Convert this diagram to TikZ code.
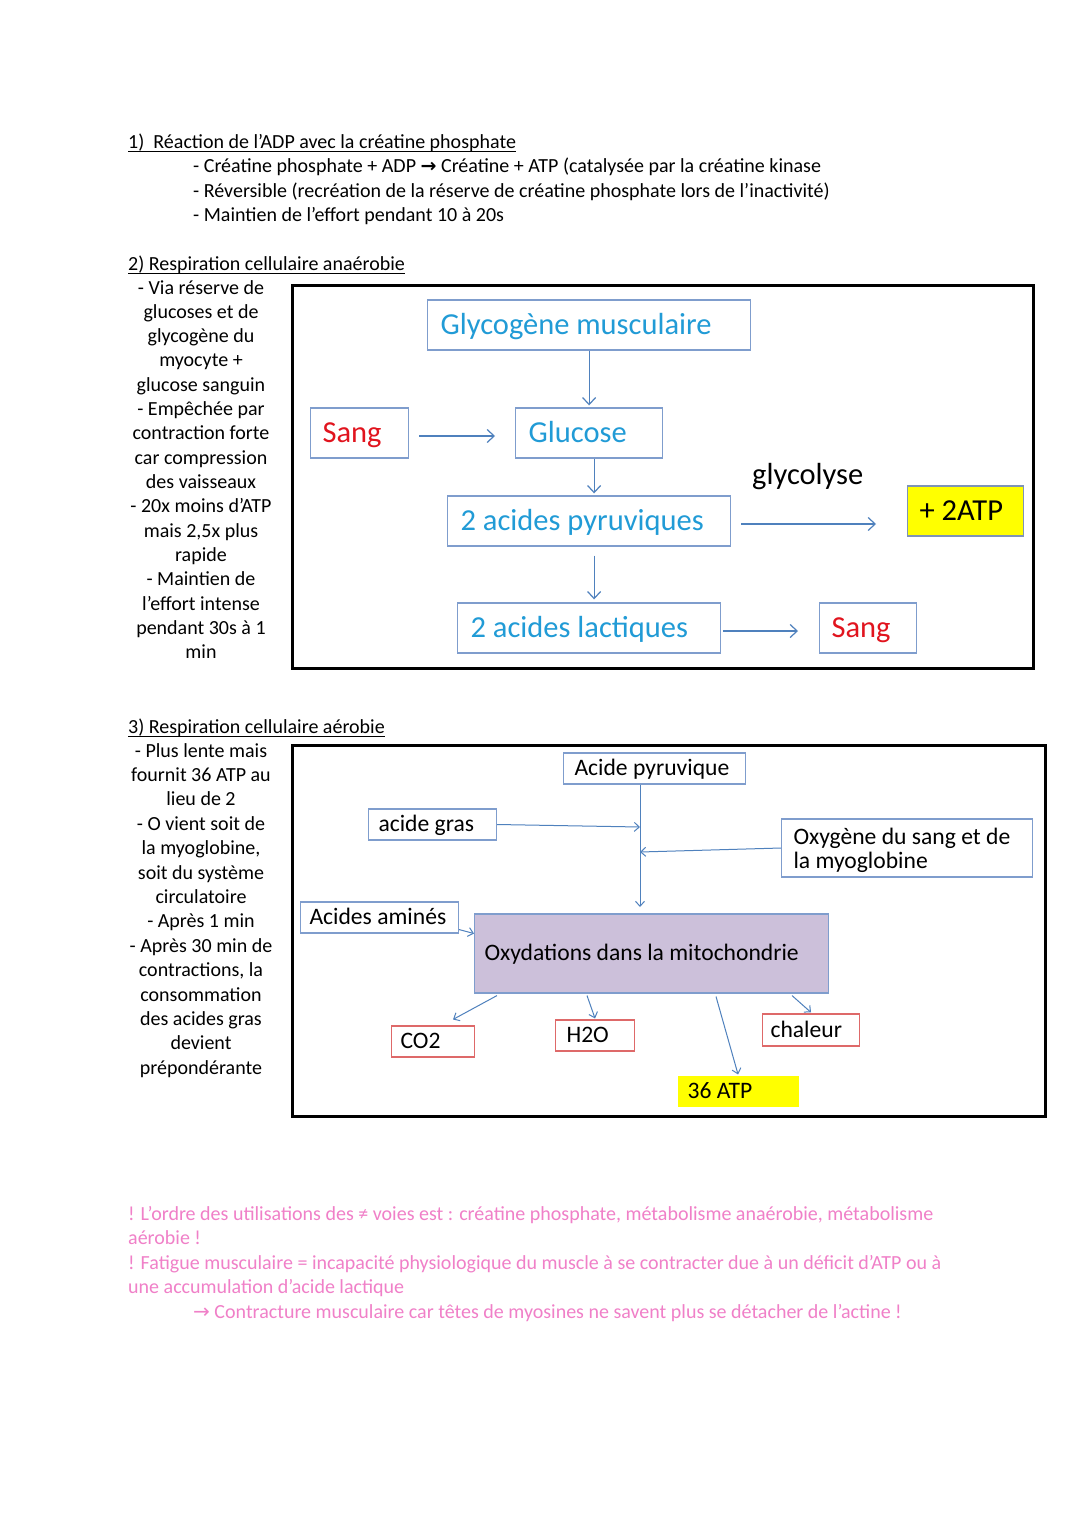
\documentclass[tikz,border=0pt]{standalone}
\usepackage{fontspec}
\setmainfont{Carlito}
\newfontfamily\symfont{DejaVu Sans}
\usetikzlibrary{arrows.meta}

\definecolor{boxblue}{RGB}{127,157,205}
\definecolor{arrblue}{RGB}{79,129,189}
\definecolor{txtcyan}{RGB}{33,155,214}
\definecolor{txtred}{RGB}{225,20,30}
\definecolor{boxred}{RGB}{222,105,105}
\definecolor{atpyellow}{RGB}{255,255,0}
\definecolor{mitolav}{RGB}{204,192,218}
\definecolor{notepink}{RGB}{240,128,200}

% left aligned text of fixed width inside a box
\newcommand{\boxtxt}[2]{\makebox[#1][l]{#2}}

\begin{document}
\begin{tikzpicture}[x=1pt,y=-1pt,
  every node/.style={inner sep=0pt},
  body/.style={font=\fontsize{20}{24.3}\selectfont, anchor=base west},
  coltxt/.style={font=\fontsize{20}{24.3}\selectfont, anchor=base},
  notetxt/.style={body, text=notepink},
  uline/.style={line width=1.1pt},
  frame/.style={line width=3pt},
  bigbox/.style={draw=boxblue, line width=1.2pt, anchor=west, minimum height=50pt,
    font=\fontsize{30.5}{36}\selectfont, text height=25pt, text depth=6.3pt},
  smallbox/.style={draw=boxblue, line width=1.1pt, anchor=west, minimum height=31pt,
    font=\fontsize{23.6}{24}\selectfont, text height=19.5pt, text depth=5pt},
  redbox/.style={smallbox, draw=boxred},
  arr/.style={draw=arrblue, line width=1.2pt, -{Straight Barb[length=7pt,width=13pt]}},
  sarr/.style={draw=arrblue, line width=1pt, -{Straight Barb[length=5pt,width=9pt]}}
]
\fill[white] (0,0) rectangle (1080,1528);
\useasboundingbox (0,0) rectangle (1080,1528);

%% 1) creatine phosphate
% Text Node
\node[body] (h1) at (128,148) {1)\ \ Réaction de l’ADP avec la créatine phosphate};
\draw[uline] ([yshift=-3.5pt]h1.base west) -- ([yshift=-3.5pt]h1.base east);
\node[body] (l1a) at (193,172) {- Créatine phosphate + ADP {\symfont\bfseries\fontsize{19}{20}\selectfont →} Créatine + ATP (catalysée par la créatine kinase};
\node[body] (l1b) at (193,197) {- Réversible (recréation de la réserve de créatine phosphate lors de l’inactivité)};
\node[body] (l1c) at (193,221) {- Maintien de l’effort pendant 10 à 20s};

%% 2) anaerobie
% Text Node
\node[body] (h2) at (128,270) {2) Respiration cellulaire anaérobie};
\draw[uline] ([yshift=-3.5pt]h2.base west) -- ([yshift=-3.5pt]h2.base east);
\foreach \ln [count=\i from 0] in {- Via réserve de, glucoses et de, glycogène du, myocyte +,
    glucose sanguin, - Empêchée par, contraction forte, car compression, des vaisseaux,
    - 20x moins d’ATP, {mais 2,5x plus}, rapide, - Maintien de, l’effort intense,
    pendant 30s à 1, min}
  \node[coltxt] (an\i) at (201,294+24.33*\i) {\ln};

\draw[frame] (292,285) rectangle (1033,668);

% Boxes
\node[bigbox, inner xsep=13pt, text=txtcyan] (glyc) at (427,325) {\boxtxt{297pt}{Glycogène musculaire}};
\node[bigbox, inner xsep=12pt, text=txtred] (sangL) at (310,433) {\boxtxt{74pt}{Sang}};
\node[bigbox, inner xsep=13pt, text=txtcyan] (gluc) at (515,433) {\boxtxt{121pt}{Glucose}};
\node[bigbox, inner xsep=13pt, text=txtcyan] (pyr) at (447,521) {\boxtxt{257pt}{2 acides pyruviques}};
\node[bigbox, inner xsep=13pt, text=txtcyan] (lact) at (457,628) {\boxtxt{237pt}{2 acides lactiques}};
\node[bigbox, inner xsep=12pt, text=txtred] (sangR) at (819,628) {\boxtxt{73pt}{Sang}};
\node[bigbox, inner xsep=12pt, fill=atpyellow, draw=boxblue!70!gray] (atp2) at (907,511) {\boxtxt{92pt}{+ 2ATP}};
% Text Node
\node[font=\fontsize{30.5}{36}\selectfont, anchor=base west] (glyco) at (752,484) {glycolyse};

%Straight Lines
\draw[arr] (glyc.south) -- ([yshift=2pt]gluc.north);
\draw[arr] ([xshift=5pt]gluc.south) -- ([shift={(5,-2)}]pyr.north);
\draw[arr] ([shift={(5,9)}]pyr.south) -- ([shift={(5,-3)}]lact.north);
\draw[arr] ([shift={(10,3)}]sangL.east) -- ([shift={(-20,3)}]gluc.west);
\draw[arr] ([shift={(10,3)}]pyr.east) -- ([shift={(-31,13)}]atp2.west);
\draw[arr] ([shift={(2,3)}]lact.east) -- ([shift={(-21,3)}]sangR.west);

%% 3) aerobie
% Text Node
\node[body] (h3) at (128,733) {3) Respiration cellulaire aérobie};
\draw[uline] ([yshift=-3.5pt]h3.base west) -- ([yshift=-3.5pt]h3.base east);
\foreach \ln [count=\i from 0] in {- Plus lente mais, fournit 36 ATP au, lieu de 2,
    - O vient soit de, {la myoglobine,}, soit du système, circulatoire, - Après 1 min,
    - Après 30 min de, {contractions, la}, consommation, des acides gras, devient,
    prépondérante}
  \node[coltxt] (ae\i) at (201,757+24.4*\i) {\ln};

\draw[frame] (292,745) rectangle (1045,1116);

% Boxes
\node[smallbox, inner xsep=11pt] (apyr) at (563,768.5) {\boxtxt{160pt}{Acide pyruvique}};
\node[smallbox, inner xsep=10pt] (agras) at (368,824.5) {\boxtxt{108pt}{acide gras}};
\node[smallbox, inner xsep=12pt, minimum height=58pt, text height=, text depth=] (oxyg) at (781,848)
  {\boxtxt{227pt}{\begin{tabular}{@{}l@{}}\rule{0pt}{25pt}Oxygène du sang et de\\la myoglobine\end{tabular}}};
\node[smallbox, inner xsep=9pt] (amines) at (300,917.5) {\boxtxt{140pt}{Acides aminés}};
\node[smallbox, inner xsep=10pt, minimum height=79pt, fill=mitolav] (oxyd) at (474,953.5) {\boxtxt{334pt}{Oxydations dans la mitochondrie}};
\node[redbox, inner xsep=9pt] (co2) at (391,1041.5) {\boxtxt{65pt}{CO2}};
\node[redbox, inner xsep=11pt] (h2o) at (555,1035.5) {\boxtxt{57pt}{H2O}};
\node[redbox, inner xsep=8pt, minimum height=32pt] (chal) at (762,1030) {\boxtxt{81pt}{chaleur}};
\node[smallbox, inner xsep=10pt, draw=none, fill=atpyellow] (atp36) at (677,1091.5) {\boxtxt{101pt}{36 ATP}};

\coordinate (jgras) at (640,827);
\coordinate (joxy) at (640,852);
\coordinate (jdown) at (640,907);

%Straight Lines
\draw[sarr] (apyr.south -| jdown) -- (jdown);
\draw[sarr] (agras.east) -- (jgras);
\draw[sarr] (oxyg.west) -- (joxy);
\draw[sarr] ([yshift=4pt]amines.south east) -- (oxyd.west |- amines.south east);
\draw[sarr] ([shift={(23,2)}]oxyd.south west) -- ([shift={(62,-6)}]co2.north west);
\draw[sarr] ([shift={(113,2)}]oxyd.south west) -- ([yshift=1pt]h2o.north);
\draw[sarr] ([shift={(242,3)}]oxyd.south west) -- ([yshift=1pt]atp36.north);
\draw[sarr] ([shift={(318,2)}]oxyd.south west) -- ([yshift=1pt]chal.north);

%% notes
% Text Node
\node[notetxt] (n1) at (128,1220) {! L’ordre des utilisations des ≠ voies est : créatine phosphate, métabolisme anaérobie, métabolisme};
\node[notetxt] (n2) at (128,1244) {aérobie !};
\node[notetxt] (n3) at (128,1269) {! Fatigue musculaire = incapacité physiologique du muscle à se contracter due à un déficit d’ATP ou à};
\node[notetxt] (n4) at (128,1293) {une accumulation d’acide lactique};
\node[notetxt] (n5) at (193,1318) {{\symfont\fontsize{20}{20}\selectfont →} Contracture musculaire car têtes de myosines ne savent plus se détacher de l’actine !};

\end{tikzpicture}
\end{document}
